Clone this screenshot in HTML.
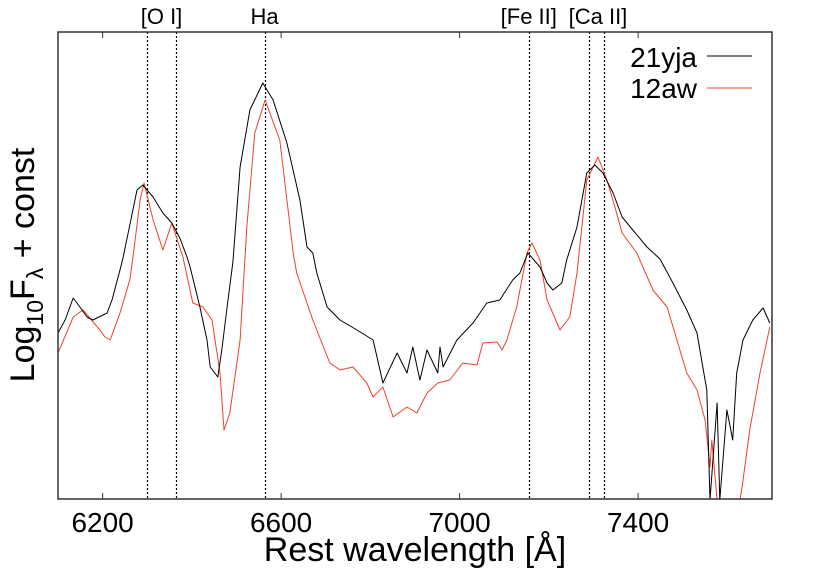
<!DOCTYPE html>
<html><head><meta charset="utf-8"><style>
html,body{margin:0;padding:0;background:#fff;}
svg{display:block;font-family:"Liberation Sans",sans-serif;}
</style></head><body>
<svg id="chart" width="830" height="581">
<defs><clipPath id="plotclip"><rect x="58" y="32" width="714" height="467"/></clipPath></defs>
<g id="lines"></g>
<g id="series" clip-path="url(#plotclip)"></g>
<rect x="58" y="32" width="714" height="467" fill="none" stroke="#333" stroke-width="1.5"/>
<g id="ticks"></g>
<text x="415" y="561" font-size="34" text-anchor="middle">Rest wavelength [Å]</text>
<text transform="translate(34,265) rotate(-90)" font-size="34" text-anchor="middle">Log<tspan font-size="23" dy="9">10</tspan><tspan dy="-9">F</tspan><tspan font-size="23" dy="9">λ</tspan><tspan dy="-9"> + const</tspan></text>
<g>
<text x="697" y="67" font-size="28" text-anchor="end">21yja</text>
<line x1="707" y1="56" x2="752" y2="56" stroke="#000" stroke-width="1"/>
<text x="697" y="98" font-size="28" text-anchor="end">12aw</text>
<line x1="707" y1="88" x2="752" y2="88" stroke="#f0402a" stroke-width="1"/>
</g>
</svg>
<script>
const xTicks=[6200,6600,7000,7400];
const lineWaves=[6300,6364,6563,7155,7291,7324];
const lineLabels=[{t:"[O I]",w:6332},{t:"Ha",w:6563},{t:"[Fe II]",w:7155},{t:"[Ca II]",w:7310}];
const wave21yja=[6100,6116,6134,6149,6165,6178,6210,6221,6239,6246,6277,6290,6313,6335,6355,6373,6389,6396,6418,6434,6441,6458,6467,6479,6492,6508,6530,6559,6582,6613,6642,6658,6671,6680,6703,6732,6770,6806,6828,6860,6882,6895,6911,6927,6951,6956,6963,6994,7030,7061,7090,7119,7135,7153,7180,7196,7209,7229,7240,7263,7285,7303,7321,7344,7364,7388,7420,7449,7478,7494,7509,7532,7545,7554,7561,7577,7583,7599,7612,7621,7635,7657,7680,7695];
const flux21yja=[166,179,201,192,182,179,186,199,229,242,309,314,302,286,276,261,242,232,192,159,132,122,149,192,237,332,389,416,399,356,299,252,246,226,192,179,169,159,116,146,126,152,119,149,126,152,132,159,176,196,199,219,226,246,232,216,209,216,239,272,326,334,326,306,282,269,252,240,216,202,189,166,132,109,-1,96,-1,89,59,126,159,179,191,176];
const wave12aw=[6100,6134,6156,6194,6205,6217,6239,6261,6268,6284,6293,6313,6335,6355,6380,6402,6425,6445,6463,6472,6485,6508,6523,6541,6564,6597,6627,6635,6671,6709,6732,6761,6792,6806,6828,6851,6882,6904,6927,6951,6978,7007,7039,7052,7084,7095,7106,7128,7151,7162,7180,7196,7225,7247,7263,7285,7310,7330,7348,7364,7397,7433,7465,7487,7509,7532,7550,7561,7565,7577,7594,7617,7633,7650,7673,7695];
const flux12aw=[146,182,189,169,162,159,186,219,242,299,316,279,249,276,242,196,192,179,126,69,86,159,272,366,399,359,246,226,179,136,129,132,116,102,112,82,92,86,106,116,119,136,134,156,157,149,159,192,246,256,239,199,169,182,226,319,342,319,292,266,246,209,192,159,126,109,79,32,59,-1,-30,-30,12,69,126,172];
const X=w=>58+(w-6100)*(714/1600);
const Y=v=>499-v;
const NS="http://www.w3.org/2000/svg";
const tg=document.getElementById('ticks');
xTicks.forEach(t=>{
  const x=X(t);
  [[499,493],[32,38]].forEach(([a,b],i)=>{
    const l=document.createElementNS(NS,'line');
    l.setAttribute('x1',x);l.setAttribute('x2',x);l.setAttribute('y1',a);l.setAttribute('y2',b);
    l.setAttribute('stroke','#333');
    
    
    tg.appendChild(l);
  });
  const tx=document.createElementNS(NS,'text');
  tx.setAttribute('x',x);tx.setAttribute('y',532);tx.setAttribute('font-size','28');tx.setAttribute('text-anchor','middle');
  tx.textContent=t;
  
  
  tg.appendChild(tx);
});
const lg=document.getElementById('lines');
lineWaves.forEach(w=>{
  const l=document.createElementNS(NS,'line');
  const x=Math.round(X(w))+0.5;
  l.setAttribute('x1',x);l.setAttribute('x2',x);l.setAttribute('y1',32);l.setAttribute('y2',499);
  l.setAttribute('stroke','#000');l.setAttribute('stroke-dasharray','2,2');l.setAttribute('stroke-width','1.2');
  
  
  lg.appendChild(l);
});
lineLabels.forEach(o=>{
  const t=document.createElementNS(NS,'text');
  t.setAttribute('x',X(o.w));t.setAttribute('y',24);t.setAttribute('font-size','22');t.setAttribute('text-anchor','middle');
  t.textContent=o.t;
  
  
  lg.appendChild(t);
});
const sg=document.getElementById('series');
function draw(ws,fs,col,name){
  const p=document.createElementNS(NS,'polyline');
  p.setAttribute('points',ws.map((w,i)=>X(w).toFixed(1)+','+Y(fs[i]).toFixed(1)).join(' '));
  p.setAttribute('fill','none');p.setAttribute('stroke',col);p.setAttribute('stroke-width','1');
  p.setAttribute('stroke-linejoin','round');
  
  
  sg.appendChild(p);
}
draw(wave12aw,flux12aw,'#f0402a','series-12aw');
draw(wave21yja,flux21yja,'#000','series-21yja');
</script>
</body></html>
